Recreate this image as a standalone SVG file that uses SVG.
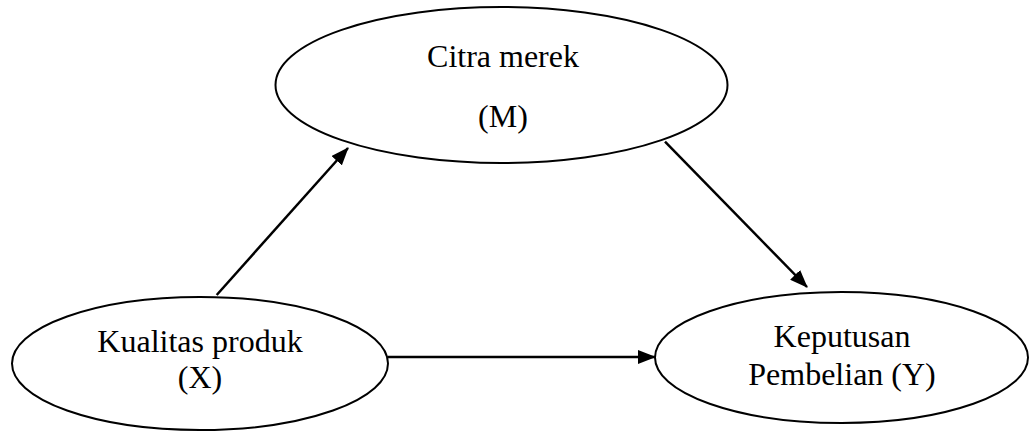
<svg xmlns="http://www.w3.org/2000/svg" width="1029" height="433" viewBox="0 0 1029 433">
<style>
.node ellipse{fill:#fff;stroke:#000;stroke-width:2}
.node text{font-family:"Liberation Serif","Times New Roman",serif;font-size:32px;fill:#000;text-anchor:middle}
.edges line{stroke:#000;stroke-width:2.5}
</style>
<defs>
<marker id="arr" markerUnits="userSpaceOnUse" markerWidth="18" markerHeight="14" viewBox="0 0 18 14" refX="17" refY="7" orient="auto">
<path d="M0,0 L18,7 L0,14 Z" fill="#000"/>
</marker>
</defs>
<rect width="1029" height="433" fill="#fff"/>
<g id="node-M" class="node">
<ellipse cx="501.5" cy="85" rx="226" ry="78"/>
<text x="503" y="67">Citra merek</text>
<text x="503" y="127">(M)</text>
</g>
<g id="node-X" class="node">
<ellipse cx="200" cy="363.5" rx="188" ry="66.5"/>
<text x="200" y="352">Kualitas produk</text>
<text x="200" y="388">(X)</text>
</g>
<g id="node-Y" class="node">
<ellipse cx="841.5" cy="357.5" rx="186.5" ry="65.5"/>
<text x="842" y="347">Keputusan</text>
<text x="842" y="385">Pembelian (Y)</text>
</g>
<g id="connectors" class="edges">
<line x1="216.7" y1="295" x2="348" y2="148" marker-end="url(#arr)"/>
<line x1="665" y1="141.7" x2="807" y2="287" marker-end="url(#arr)"/>
<line x1="388" y1="357" x2="655" y2="357" marker-end="url(#arr)"/>
</g>
</svg>
